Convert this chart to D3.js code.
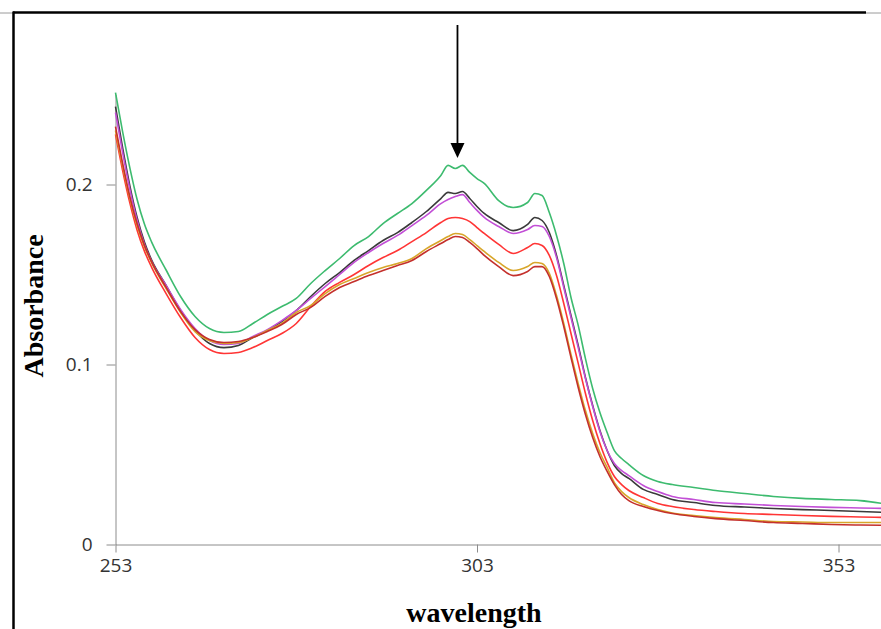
<!DOCTYPE html>
<html>
<head>
<meta charset="utf-8">
<script src="https://cdn.jsdelivr.net/npm/d3@7"></script>
<style>
  body { margin: 0; background: #fff; }
  svg { display: block; }
</style>
</head>
<body>
<svg id="spectra_chart"></svg>
<script>
// wavelengths (nm)
const wavelengths = [253, 254, 255, 256, 257, 258, 260, 262, 264, 266, 268, 270, 272, 274, 276, 278, 280, 282, 284, 286,
  288, 290, 292, 294, 296, 298, 299, 300, 301, 302, 303, 304, 306, 308, 310, 311, 312, 313, 314, 315,
  316, 317, 318, 319, 320, 321, 322, 323, 324, 326, 328, 330, 333, 336, 340, 344, 348, 352, 356, 360];

const greenAbs = [0.2511, 0.2290, 0.2090, 0.1915, 0.1780, 0.1680, 0.1525, 0.1378, 0.1267, 0.1200, 0.1178, 0.1183, 0.1228, 0.1278, 0.1322, 0.1367, 0.1450, 0.1522, 0.1589, 0.1661,
  0.1711, 0.1783, 0.1839, 0.1894, 0.1967, 0.2050, 0.2106, 0.2089, 0.2106, 0.2067, 0.2033, 0.2006, 0.1911, 0.1872, 0.1900, 0.1950, 0.1939, 0.1844, 0.1717, 0.1561,
  0.1372, 0.1217, 0.1033, 0.0867, 0.0733, 0.0622, 0.0522, 0.0478, 0.0444, 0.0383, 0.0350, 0.0333, 0.0317, 0.0300, 0.0283, 0.0267, 0.0256, 0.0250, 0.0244, 0.0222];

const blackAbs = [0.2433, 0.2200, 0.1990, 0.1815, 0.1680, 0.1580, 0.1439, 0.1300, 0.1189, 0.1117, 0.1094, 0.1106, 0.1150, 0.1189, 0.1239, 0.1300, 0.1378, 0.1450, 0.1511, 0.1578,
  0.1633, 0.1689, 0.1733, 0.1789, 0.1850, 0.1922, 0.1956, 0.1950, 0.1961, 0.1922, 0.1878, 0.1839, 0.1789, 0.1744, 0.1778, 0.1817, 0.1800, 0.1733, 0.1606, 0.1439,
  0.1272, 0.1106, 0.0928, 0.0772, 0.0633, 0.0522, 0.0439, 0.0394, 0.0367, 0.0306, 0.0278, 0.0250, 0.0233, 0.0217, 0.0208, 0.0200, 0.0194, 0.0189, 0.0183, 0.0178];

const violetAbs = [0.2400, 0.2175, 0.1970, 0.1800, 0.1668, 0.1572, 0.1439, 0.1306, 0.1200, 0.1133, 0.1111, 0.1117, 0.1156, 0.1194, 0.1244, 0.1300, 0.1367, 0.1433, 0.1500, 0.1567,
  0.1622, 0.1672, 0.1717, 0.1772, 0.1828, 0.1894, 0.1917, 0.1933, 0.1944, 0.1900, 0.1856, 0.1817, 0.1767, 0.1728, 0.1750, 0.1772, 0.1767, 0.1711, 0.1594, 0.1428,
  0.1261, 0.1094, 0.0922, 0.0767, 0.0628, 0.0522, 0.0450, 0.0411, 0.0383, 0.0328, 0.0294, 0.0267, 0.0250, 0.0233, 0.0225, 0.0217, 0.0211, 0.0206, 0.0203, 0.0200];

const redAbs = [0.2278, 0.2075, 0.1895, 0.1745, 0.1630, 0.1540, 0.1394, 0.1261, 0.1150, 0.1083, 0.1061, 0.1067, 0.1094, 0.1133, 0.1172, 0.1228, 0.1322, 0.1406, 0.1456, 0.1500,
  0.1550, 0.1594, 0.1633, 0.1683, 0.1733, 0.1789, 0.1811, 0.1817, 0.1811, 0.1794, 0.1761, 0.1728, 0.1667, 0.1617, 0.1650, 0.1672, 0.1661, 0.1606, 0.1494, 0.1339,
  0.1172, 0.1006, 0.0839, 0.0689, 0.0561, 0.0456, 0.0378, 0.0333, 0.0300, 0.0261, 0.0228, 0.0211, 0.0194, 0.0183, 0.0172, 0.0167, 0.0161, 0.0156, 0.0153, 0.0150];

const goldAbs = [0.2300, 0.2100, 0.1920, 0.1770, 0.1655, 0.1565, 0.1422, 0.1289, 0.1183, 0.1133, 0.1117, 0.1122, 0.1150, 0.1189, 0.1228, 0.1289, 0.1328, 0.1394, 0.1444, 0.1478,
  0.1511, 0.1539, 0.1561, 0.1589, 0.1644, 0.1689, 0.1711, 0.1728, 0.1722, 0.1694, 0.1661, 0.1628, 0.1567, 0.1522, 0.1544, 0.1567, 0.1561, 0.1506, 0.1383, 0.1228,
  0.1056, 0.0894, 0.0744, 0.0617, 0.0511, 0.0428, 0.0344, 0.0294, 0.0261, 0.0222, 0.0194, 0.0175, 0.0161, 0.0150, 0.0139, 0.0128, 0.0125, 0.0122, 0.0122, 0.0122];

const darkRedAbs = [0.2322, 0.2115, 0.1930, 0.1780, 0.1662, 0.1570, 0.1428, 0.1294, 0.1194, 0.1139, 0.1122, 0.1128, 0.1150, 0.1183, 0.1222, 0.1278, 0.1317, 0.1378, 0.1428, 0.1461,
  0.1494, 0.1522, 0.1550, 0.1578, 0.1628, 0.1672, 0.1694, 0.1711, 0.1706, 0.1678, 0.1644, 0.1606, 0.1544, 0.1494, 0.1517, 0.1544, 0.1544, 0.1489, 0.1367, 0.1211,
  0.1039, 0.0872, 0.0722, 0.0594, 0.0489, 0.0406, 0.0333, 0.0278, 0.0244, 0.0211, 0.0189, 0.0172, 0.0156, 0.0144, 0.0133, 0.0122, 0.0117, 0.0111, 0.0108, 0.0106];

const xTicks = [253, 303, 353];
const yTicks = [0, 0.1, 0.2];

const series = [
  { name: 'green', color: '#3dbb6f', values: greenAbs },
  { name: 'black', color: '#3a3a3a', values: blackAbs },
  { name: 'violet', color: '#c24fd6', values: violetAbs },
  { name: 'red', color: '#ff3535', values: redAbs },
  { name: 'gold', color: '#d8a62a', values: goldAbs },
  { name: 'darkred', color: '#c4302c', values: darkRedAbs }
];

function drawSpectraChart() {
  const width = 881,
    height = 629;

  const svg = d3.select('#spectra_chart')
    .attr('width', width)
    .attr('height', height);

  // page frame bits cut from the document
  svg.append('line').attr('x1', 0).attr('x2', 13).attr('y1', 13).attr('y2', 13)
    .style('stroke', '#9a9a9a').style('stroke-width', 1);
  svg.append('line').attr('x1', 13).attr('x2', 866).attr('y1', 12.5).attr('y2', 12.5)
    .style('stroke', '#000').style('stroke-width', 2.5);
  svg.append('line').attr('x1', 866).attr('x2', 881).attr('y1', 13).attr('y2', 13)
    .style('stroke', '#9a9a9a').style('stroke-width', 1);
  svg.append('line').attr('x1', 13.5).attr('x2', 13.5).attr('y1', 11.5).attr('y2', height)
    .style('stroke', '#000').style('stroke-width', 2.5);

  const x = d3.scaleLinear().domain([253, 359]).range([115.5, 115.5 + 106 * 7.23]);
  const y = d3.scaleLinear().domain([0, 0.25]).range([544.5, 94.5]);

  // y axis
  const yAxis = svg.append('g')
    .attr('transform', `translate(${x(253)},0)`)
    .call(d3.axisLeft(y).tickValues(yTicks).tickSize(9).tickSizeOuter(0).tickPadding(14)
      .tickFormat(d => d === 0 ? '0' : d3.format('.1f')(d)));
  yAxis.select('.domain').style('stroke', '#8c8c8c');
  yAxis.selectAll('.tick line').style('stroke', '#8c8c8c');
  yAxis.selectAll('text')
    .style('font-family', '"Open Sans", sans-serif')
    .style('font-size', '19px')
    .style('fill', '#333');

  // x axis
  const xAxis = svg.append('g')
    .attr('transform', `translate(0,${y(0)})`)
    .call(d3.axisBottom(x).tickValues(xTicks).tickSize(8).tickSizeOuter(0).tickFormat(d3.format('d')));
  xAxis.select('.domain').style('stroke', '#8c8c8c');
  xAxis.selectAll('.tick line').style('stroke', '#8c8c8c');
  xAxis.selectAll('text')
    .attr('y', 27)
    .attr('dy', 0)
    .style('font-family', '"Open Sans", sans-serif')
    .style('font-size', '19px')
    .style('fill', '#333');

  const line = d3.line()
    .x((d, i) => x(wavelengths[i]))
    .y(d => y(d))
    .curve(d3.curveMonotoneX);

  svg.append('g')
    .selectAll('path')
    .data(series, d => d.name)
    .join('path')
    .attr('d', d => line(d.values))
    .style('fill', 'none')
    .style('stroke', d => d.color)
    .style('stroke-width', 1.6)
    .style('stroke-linejoin', 'round');

  // axis titles
  svg.append('text')
    .attr('transform', `translate(43,${306}) rotate(-90)`)
    .attr('text-anchor', 'middle')
    .text('Absorbance')
    .style('font-family', '"Liberation Serif", "Times New Roman", serif')
    .style('font-weight', 'bold')
    .style('font-size', '28px')
    .style('fill', '#000');

  svg.append('text')
    .attr('x', 474)
    .attr('y', 622)
    .attr('text-anchor', 'middle')
    .text('wavelength')
    .style('font-family', '"Liberation Serif", "Times New Roman", serif')
    .style('font-weight', 'bold')
    .style('font-size', '28px')
    .style('fill', '#000');

  // arrow marking the peak
  const arrowX = x(300.3);
  svg.append('line')
    .attr('x1', arrowX).attr('x2', arrowX)
    .attr('y1', 25).attr('y2', 146)
    .style('stroke', '#000').style('stroke-width', 1.8);
  svg.append('path')
    .attr('d', `M${arrowX - 7},143 L${arrowX + 7},143 L${arrowX},158 Z`)
    .style('fill', '#000');
}

drawSpectraChart();
</script>
</body>
</html>
